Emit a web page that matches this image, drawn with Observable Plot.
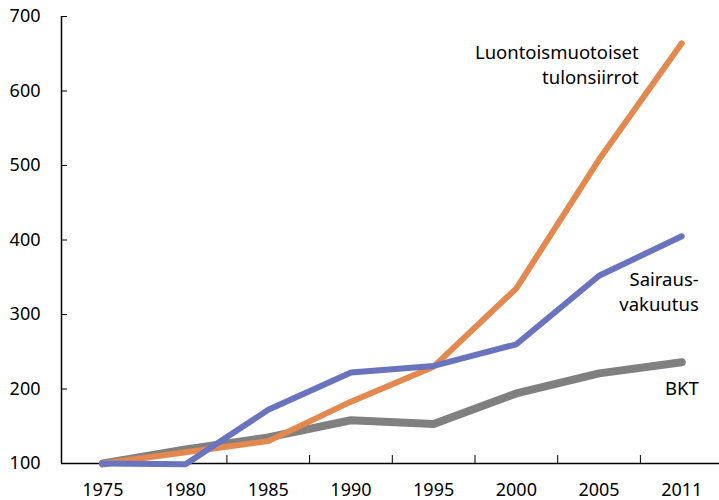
<!DOCTYPE html>
<html>
<head>
<meta charset="utf-8">
<script src="https://cdn.jsdelivr.net/npm/d3@7"></script>
<script src="https://cdn.jsdelivr.net/npm/@observablehq/plot@0.6"></script>
<style>
  html, body { margin: 0; padding: 0; background: #fff; }
  #chart svg { display: block; }
</style>
</head>
<body>
<div id="chart"></div>
<script>
const years = ["1975", "1980", "1985", "1990", "1995", "2000", "2005", "2011"];
const bkt = [100, 119, 135, 158, 153, 194, 221, 236];
const luontois = [100, 115, 130, 183, 230, 335, 508, 664];
const sairaus = [100, 99, 172, 222, 231, 260, 352, 405];
const yTicks = [100, 200, 300, 400, 500, 600, 700];
const seriesNames = ["BKT", "Luontoismuotoiset\ntulonsiirrot", "Sairaus-\nvakuutus"];
const seriesColors = ["#808080", "#e3894f", "#6a74be"];
const labelY = [203, 637, 332];
const labelDx = [17, -43, 17];

const rows = [];
[bkt, luontois, sairaus].forEach((vals, s) => {
  vals.forEach((v, i) => rows.push({series: s, i, year: years[i], value: v}));
});

const n = years.length;
const bounds = d3.range(1.5, n - 1, 1); // category boundaries (first one absent in reference)
const tickLenX = 8 * 600 / 447;          // tick length in data units on y
const tickLenY = 6 / 82.7;               // tick length in data units on x

const fontFamily = "'Noto Sans', 'Open Sans', sans-serif";

const chart = Plot.plot({
  width: 719,
  height: 500,
  marginLeft: 61,
  marginRight: 0,
  marginTop: 16,
  marginBottom: 37,
  style: {fontFamily, fontSize: "18px", color: "#000", background: "#fff"},
  x: {type: "linear", domain: [-0.5, n - 0.5], range: [61, 61 + n * 82.7]},
  y: {domain: [100, 700]},
  marks: [
    Plot.axisY({ticks: yTicks, tickSize: 0, tickPadding: 21, fontSize: 18, label: null}),
    Plot.axisX({ticks: d3.range(n), tickFormat: i => years[i], tickSize: 0, tickPadding: 20, fontSize: 18, label: null}),
    Plot.ruleY(yTicks, {x1: -0.5, x2: -0.5 + tickLenY, y: d => d, stroke: "#000", strokeWidth: 1}),
    Plot.ruleX(bounds, {x: d => d, y1: 100, y2: 100 + tickLenX, stroke: "#000", strokeWidth: 1}),
    Plot.ruleX([-0.5], {y1: 100, y2: 700, stroke: "#000", strokeWidth: 1.5}),
    Plot.ruleY([100], {stroke: "#000", strokeWidth: 1.5}),
    ...[0, 1, 2].map(s => Plot.line(rows.filter(r => r.series === s), {
      x: "i", y: "value", stroke: seriesColors[s],
      strokeWidth: s === 0 ? 8 : 6, strokeLinecap: "round", strokeLinejoin: "round"
    })),
    ...[0, 1, 2].map(s => Plot.text([seriesNames[s]], {
      x: n - 1, y: labelY[s], dx: labelDx[s], text: d => d,
      textAnchor: "end", lineAnchor: "middle", lineHeight: 1.35, fontSize: 18.5, fill: "#000"
    }))
  ]
});
document.getElementById("chart").appendChild(chart);
</script>
</body>
</html>
